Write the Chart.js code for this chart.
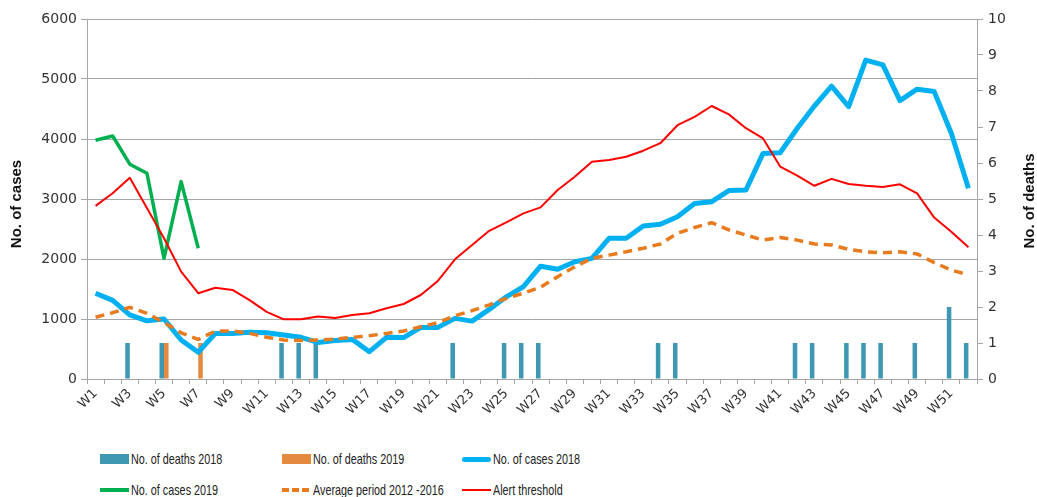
<!DOCTYPE html>
<html>
<head>
<meta charset="utf-8">
<script src="https://cdn.jsdelivr.net/npm/chart.js@4"></script>
<style>
  body { margin: 0; background: #fff; }
  #wrap { position: relative; width: 1037px; height: 497px; }
  #box { position: absolute; left: 0; top: 0; width: 1037px; height: 440px; }
  .lg { position: absolute; font-family: "Liberation Sans", Arial, sans-serif; font-size: 15px; color: #222; white-space: nowrap;
        line-height: 16px; transform: scaleX(0.72); transform-origin: 0 50%; }
  .sw { position: absolute; }
</style>
</head>
<body>
<div id="wrap">
  <div id="box"><canvas id="chart"></canvas></div>
  <div id="legend"></div>
</div>
<script>
const weeks = ['W1','W2','W3','W4','W5','W6','W7','W8','W9','W10','W11','W12','W13','W14','W15','W16','W17','W18','W19','W20','W21','W22','W23','W24','W25','W26',
  'W27','W28','W29','W30','W31','W32','W33','W34','W35','W36','W37','W38','W39','W40','W41','W42','W43','W44','W45','W46','W47','W48','W49','W50','W51','W52'];

const cases2018 = [1430,1310,1070,970,1000,650,445,760,760,780,770,735,695,610,640,660,455,695,690,860,
  860,1010,965,1160,1370,1540,1880,1830,1955,2010,2345,2345,2550,2580,2705,2925,2955,3140,3150,3760,
  3770,4180,4550,4880,4540,5315,5235,4640,4830,4790,4095,3180];
const cases2019 = [3980,4050,3580,3430,2010,3290,2180];
const average = [1030,1105,1195,1095,940,770,660,800,800,760,695,650,640,650,665,695,720,760,800,870,
  940,1055,1140,1235,1345,1430,1530,1705,1870,2010,2065,2120,2180,2250,2430,2525,2605,2485,2400,2315,
  2360,2315,2250,2235,2160,2120,2105,2120,2085,1940,1815,1735];
const alert = [2885,3095,3355,2850,2345,1790,1430,1520,1485,1315,1120,995,995,1040,1015,1065,1095,1180,1250,1400,
  1635,1995,2235,2470,2610,2760,2860,3150,3370,3620,3650,3705,3805,3930,4230,4370,4550,4410,4180,4010,
  3540,3390,3220,3335,3250,3220,3200,3245,3095,2690,2455,2195];
const deaths2018 = [null,null,1,null,1,null,null,null,null,null,null,1,1,1,null,null,null,null,null,null,
  null,1,null,null,1,1,1,null,null,null,null,null,null,1,1,null,null,null,null,null,
  null,1,1,null,1,1,1,null,1,null,2,1];
const deaths2019 = [null,null,null,null,1,null,1];

const TEAL = '#3f98b2', ORANGE_BAR = '#e38a3f', BLUE = '#00b0f0', GREEN = '#00b050', ORANGE = '#e87b1e', RED = '#ff0000';
const GRID = '#a6a6a6', TXT = '#333';
const TICK_FONT = 'DejaVu Sans';

// axis titles: the right one reads bottom-to-top like the left one
const axisTitles = {
  id: 'axisTitles',
  afterDraw(chart) {
    const { ctx, chartArea } = chart;
    const cy = (chartArea.top + chartArea.bottom) / 2;
    ctx.save();
    ctx.fillStyle = '#111';
    ctx.font = 'bold 15px "Liberation Sans", Arial, sans-serif';
    ctx.textAlign = 'center';
    ctx.textBaseline = 'middle';
    [[17, cy + 5, 'No. of cases'], [1030, cy + 2, 'No. of deaths']].forEach(([x, y, t]) => {
      ctx.save();
      ctx.translate(x, y);
      ctx.rotate(-Math.PI / 2);
      ctx.fillText(t, 0, 0);
      ctx.restore();
    });
    ctx.restore();
  }
};

const lineDs = (label, data, color, width, extra) => Object.assign({
  type: 'line', label, data, borderColor: color, backgroundColor: color, borderWidth: width,
  pointRadius: 0, tension: 0, yAxisID: 'y', spanGaps: false, borderJoinStyle: 'round', order: 1
}, extra || {});

new Chart(document.getElementById('chart'), {
  data: {
    labels: weeks,
    datasets: [
      { type: 'bar', label: 'No. of deaths 2018', data: deaths2018, backgroundColor: TEAL, yAxisID: 'y1', order: 5,
        categoryPercentage: 0.53, barPercentage: 1 },
      { type: 'bar', label: 'No. of deaths 2019', data: deaths2019, backgroundColor: ORANGE_BAR, yAxisID: 'y1', order: 5,
        categoryPercentage: 0.53, barPercentage: 1 },
      lineDs('No. of cases 2018', cases2018, BLUE, 5, { order: 3 }),
      lineDs('No. of cases 2019', cases2019, GREEN, 3.5, { order: 2 }),
      lineDs('Average period 2012 -2016', average, ORANGE, 3.5, { borderDash: [9, 6], borderCapStyle: 'butt', order: 2 }),
      lineDs('Alert threshold', alert, RED, 2, { order: 1 })
    ]
  },
  options: {
    responsive: true,
    maintainAspectRatio: false,
    animation: false,
    layout: { padding: { top: 19, left: 0, right: 0, bottom: 0 } },
    plugins: { legend: { display: false }, tooltip: { enabled: false } },
    scales: {
      x: {
        type: 'category',
        offset: true,
        grid: { offset: true, drawOnChartArea: false, drawTicks: true, tickLength: 5, color: GRID },
        border: { color: GRID },
        ticks: {
          autoSkip: false, minRotation: 45, maxRotation: 45, color: TXT, padding: 2,
          font: { family: TICK_FONT, size: 13 },
          callback(v, i) { return i % 2 === 0 ? this.getLabelForValue(v) : ''; }
        },
        afterFit(s) { s.height = 440 - 379; }
      },
      y: {
        position: 'left',
        min: 0, max: 6000,
        grid: { color: GRID, tickLength: 6 },
        border: { color: GRID },
        ticks: { stepSize: 1000, color: TXT, padding: 4, font: { family: TICK_FONT, size: 14 },
          callback: v => String(v) },
        afterFit(s) { s.width = 87; }
      },
      y1: {
        position: 'right',
        min: 0, max: 10,
        grid: { drawOnChartArea: false, color: GRID, tickLength: 6 },
        border: { color: GRID },
        ticks: { stepSize: 1, color: TXT, padding: 5, font: { family: TICK_FONT, size: 14 } },
        afterFit(s) { s.width = 60; }
      }
    }
  },
  plugins: [axisTitles]
});

// legend laid out in the same two rows and three columns as the reference
const legendItems = [
  { text: 'No. of deaths 2018', x: 100, y: 459, kind: 'box', color: TEAL },
  { text: 'No. of deaths 2019', x: 282, y: 459, kind: 'box', color: ORANGE_BAR },
  { text: 'No. of cases 2018', x: 462, y: 459, kind: 'line', color: BLUE, w: 5 },
  { text: 'No. of cases 2019', x: 100, y: 490, kind: 'line', color: GREEN, w: 3.5 },
  { text: 'Average period 2012 -2016', x: 282, y: 490, kind: 'dash', color: ORANGE, w: 3.5 },
  { text: 'Alert threshold', x: 462, y: 490, kind: 'line', color: RED, w: 2 }
];
const lg = document.getElementById('legend');
legendItems.forEach(it => {
  const sw = document.createElement('div');
  sw.className = 'sw';
  sw.style.left = it.x + 'px';
  sw.style.width = it.kind === 'dash' ? '27px' : '29px';
  if (it.kind === 'box') {
    sw.style.top = (it.y - 5) + 'px';
    sw.style.height = '10px';
    sw.style.background = it.color;
  } else {
    sw.style.top = (it.y - it.w / 2) + 'px';
    sw.style.height = it.w + 'px';
    sw.style.background = it.kind === 'dash'
      ? `repeating-linear-gradient(90deg, ${it.color} 0 7px, transparent 7px 10px)`
      : it.color;
    if (it.kind === 'line' && it.w > 4) sw.style.borderRadius = '3px';
  }
  lg.appendChild(sw);
  const t = document.createElement('div');
  t.className = 'lg';
  t.textContent = it.text;
  t.style.left = (it.x + (it.kind === 'dash' ? 31 : 31)) + 'px';
  t.style.top = (it.y - 8) + 'px';
  lg.appendChild(t);
});
</script>
</body>
</html>
